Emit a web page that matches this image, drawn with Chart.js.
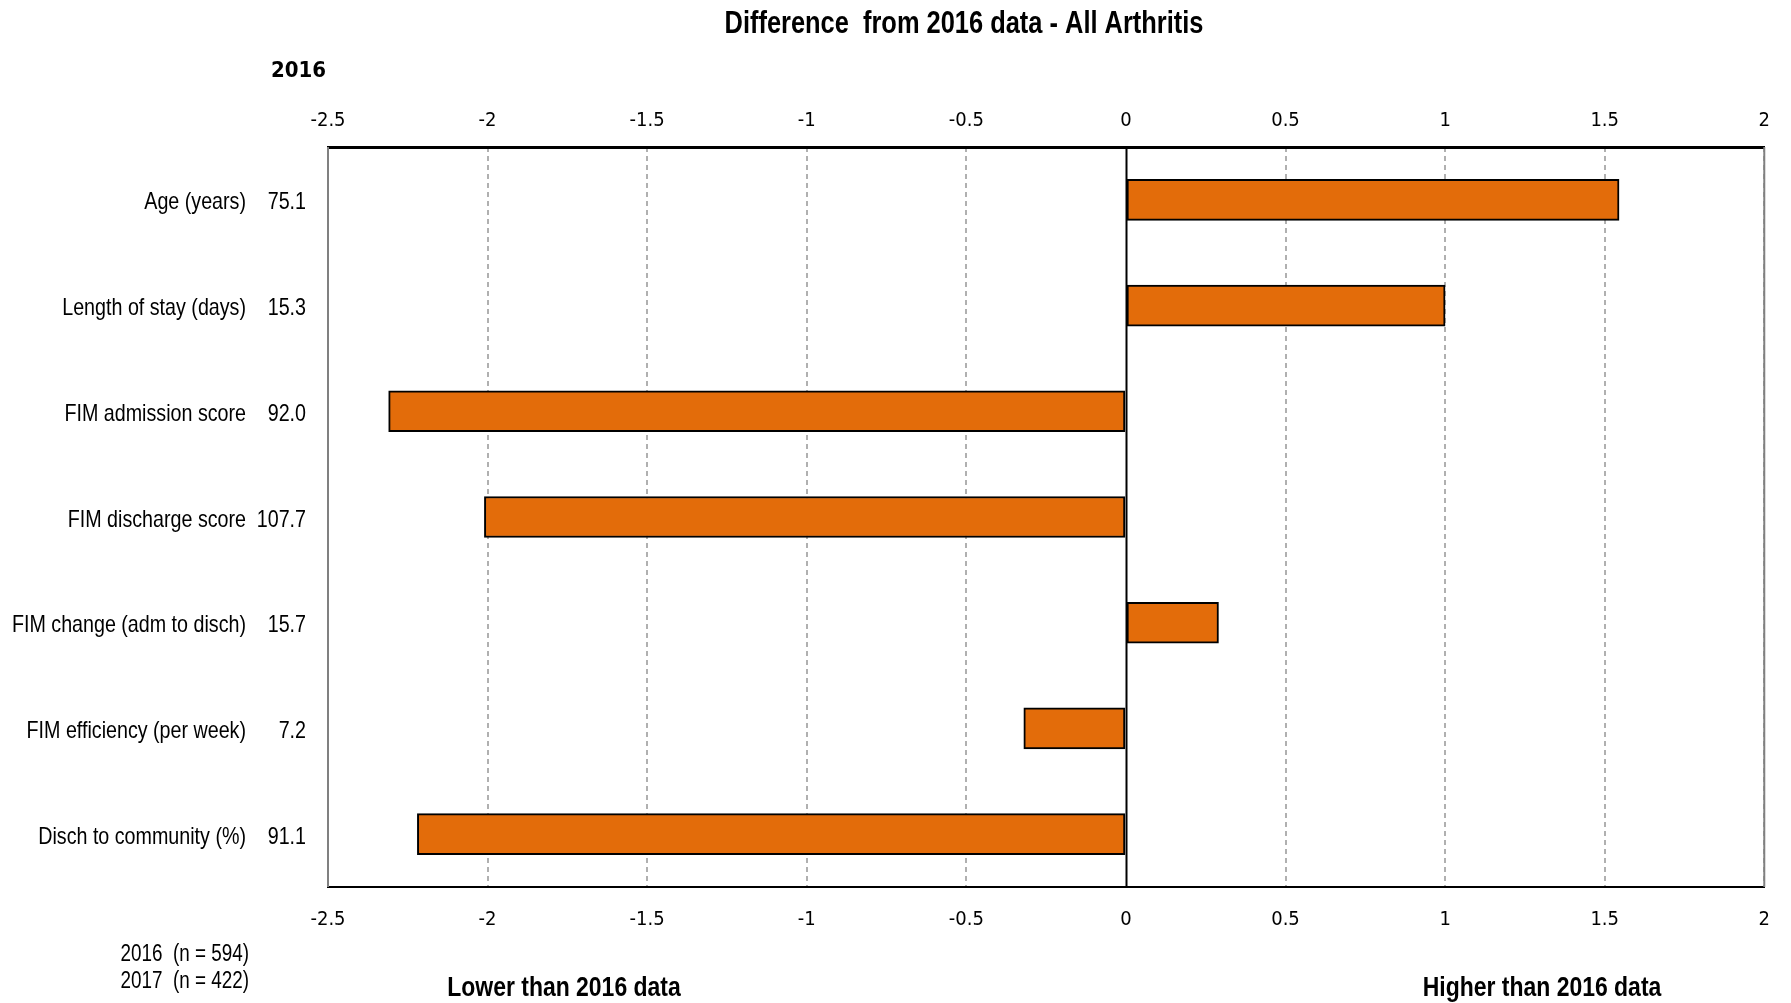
<!DOCTYPE html>
<html>
<head>
<meta charset="utf-8">
<script src="https://cdn.jsdelivr.net/npm/chart.js@4/dist/chart.umd.min.js"></script>
<style>
  html, body { margin: 0; padding: 0; background: #fff; }
  #wrap { width: 1791px; height: 1003px; position: relative; }
</style>
</head>
<body>
<div id="wrap"><canvas id="c" width="1791" height="1003"></canvas></div>
<script>
const categories = [
  "Age (years)",
  "Length of stay (days)",
  "FIM admission score",
  "FIM discharge score",
  "FIM change (adm to disch)",
  "FIM efficiency (per week)",
  "Disch to community (%)"
];
const values2016 = ["75.1", "15.3", "92.0", "107.7", "15.7", "7.2", "91.1"];
const differences = [1.545, 1.0, -2.31, -2.01, 0.29, -0.32, -2.22];
const tickValues = [-2.5, -2, -1.5, -1, -0.5, 0, 0.5, 1, 1.5, 2];
const titleText = "Difference  from 2016 data - All Arthritis";
const yearLabel = "2016";
const sampleNotes = ["2016  (n = 594)", "2017  (n = 422)"];
const lowerText = "Lower than 2016 data";
const higherText = "Higher than 2016 data";

const NARROW = "'Liberation Sans', Arial, sans-serif";
const TICKFONT = "'DejaVu Sans Condensed', 'Liberation Sans', sans-serif";
const SX = 0.82;

function narrowText(ctx, text, x, y, align, font) {
  ctx.save();
  ctx.font = font;
  ctx.textAlign = align;
  ctx.textBaseline = 'middle';
  ctx.translate(x, y);
  ctx.scale(SX, 1);
  ctx.fillText(text, 0, 0);
  ctx.restore();
}

const decor = {
  id: 'decor',
  beforeDatasetsDraw(chart) {
    const ctx = chart.ctx, a = chart.chartArea, x = chart.scales.x;
    ctx.save();
    const zx = Math.round(x.getPixelForValue(0)) + 0.5;
    ctx.strokeStyle = '#000';
    ctx.lineWidth = 2;
    ctx.beginPath(); ctx.moveTo(zx, a.top); ctx.lineTo(zx, a.bottom); ctx.stroke();
    ctx.strokeStyle = '#808080';
    ctx.lineWidth = 2;
    ctx.beginPath(); ctx.moveTo(a.left, a.top); ctx.lineTo(a.left, a.bottom); ctx.stroke();
    ctx.beginPath(); ctx.moveTo(a.right, a.top); ctx.lineTo(a.right, a.bottom); ctx.stroke();
    ctx.restore();
  },
  afterDraw(chart) {
    const ctx = chart.ctx, y = chart.scales.y;
    ctx.save();
    ctx.fillStyle = '#000';
    narrowText(ctx, titleText, 964, 24, 'center', "bold 31px " + NARROW);
    ctx.font = "bold 22px " + TICKFONT;
    ctx.textAlign = 'left'; ctx.textBaseline = 'middle';
    ctx.fillText(yearLabel, 271, 71);
    categories.forEach((c, i) => {
      const py = y.getPixelForValue(i) + 3;
      narrowText(ctx, c, 246, py, 'right', "24px " + NARROW);
      narrowText(ctx, values2016[i], 306, py, 'right', "24px " + NARROW);
    });
    narrowText(ctx, sampleNotes[0], 249, 955, 'right', "23px " + NARROW);
    narrowText(ctx, sampleNotes[1], 249, 982, 'right', "23px " + NARROW);
    narrowText(ctx, lowerText, 564, 988, 'center', "bold 28px " + NARROW);
    narrowText(ctx, higherText, 1542, 988, 'center', "bold 28px " + NARROW);
    ctx.restore();
  }
};

const tickCb = (v) => {
  const t = tickValues.find(tv => Math.abs(tv - v) < 1e-9);
  return t === undefined ? '' : String(t);
};

new Chart(document.getElementById('c'), {
  type: 'bar',
  data: {
    labels: categories,
    datasets: [{
      data: differences,
      backgroundColor: '#E36C0A',
      borderColor: '#000',
      borderWidth: 2,
      borderSkipped: false,
      barThickness: 41
    }]
  },
  options: {
    indexAxis: 'y',
    responsive: false,
    animation: false,
    layout: { padding: { left: 0, right: 24, top: 0, bottom: 0 } },
    plugins: { legend: { display: false }, title: { display: false }, tooltip: { enabled: false } },
    scales: {
      x: {
        position: 'bottom',
        min: -2.5, max: 2,
        ticks: { stepSize: 0.5, callback: tickCb, color: '#000', font: { family: TICKFONT, size: 20 }, padding: 21, maxRotation: 0, autoSkip: false },
        grid: { color: (c) => (c.tick && Math.abs(c.tick.value) < 1e-9) ? 'rgba(0,0,0,0)' : '#b0b0b0', lineWidth: 2, drawTicks: false },
        border: { display: true, color: '#000', width: 2, dash: [5, 4] },
        afterFit: (s) => { s.height = 116; }
      },
      x2: {
        position: 'top',
        min: -2.5, max: 2,
        ticks: { stepSize: 0.5, callback: tickCb, color: '#000', font: { family: TICKFONT, size: 20 }, padding: 14, maxRotation: 0, autoSkip: false },
        grid: { display: false, drawTicks: false },
        border: { display: true, color: '#000', width: 3 },
        afterFit: (s) => { s.height = 147; }
      },
      y: {
        ticks: { display: false },
        grid: { display: false, drawTicks: false },
        border: { display: false },
        afterFit: (s) => { s.width = 328; }
      }
    }
  },
  plugins: [decor]
});
</script>
</body>
</html>
